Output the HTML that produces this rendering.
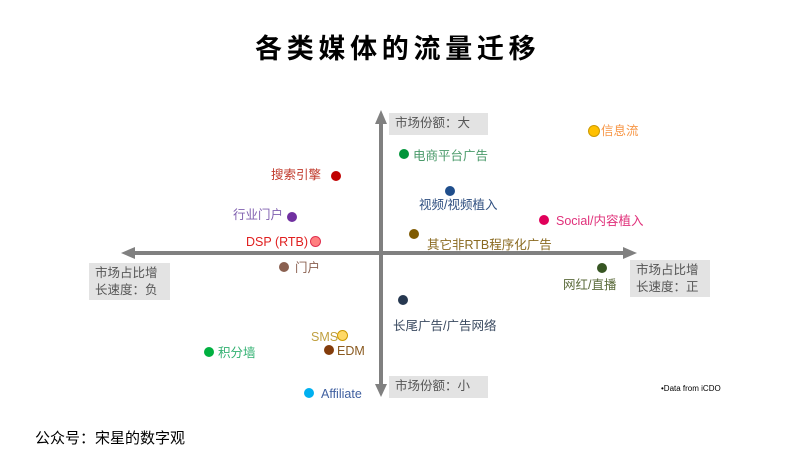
<!DOCTYPE html>
<html><head><meta charset="utf-8"><style>
body{margin:0;width:800px;height:450px;background:#fff;position:relative;overflow:hidden;font-family:"Liberation Sans","Noto Sans CJK SC",sans-serif;}
.a{position:absolute;white-space:nowrap;font-size:12.5px;line-height:14px;}
.d{position:absolute;width:10px;height:10px;border-radius:50%;}
.box{position:absolute;background:#e3e3e3;color:#555;font-size:12.5px;line-height:17px;padding:2px 6px;box-sizing:border-box;}
</style></head><body>
<div class="a" style="left:255px;top:33px;font-size:27px;line-height:32px;font-weight:bold;letter-spacing:4.7px;color:#000">各类媒体的流量迁移</div>
<svg width="800" height="450" style="position:absolute;left:0;top:0">
<line x1="381" y1="122" x2="381" y2="386" stroke="#808080" stroke-width="4"/>
<polygon points="381,110 375,124 387,124" fill="#808080"/>
<polygon points="381,397 375,384 387,384" fill="#808080"/>
<line x1="133" y1="253" x2="625" y2="253" stroke="#808080" stroke-width="4"/>
<polygon points="121,253 135,247 135,259" fill="#808080"/>
<polygon points="637,253 623,247 623,259" fill="#808080"/>
</svg>
<div class="box" style="left:389px;top:113px;width:99px;height:22px;">市场份额：大</div>
<div class="box" style="left:389px;top:376px;width:99px;height:22px;">市场份额：小</div>
<div class="box" style="left:89px;top:263px;width:81px;height:37px;">市场占比增<br>长速度：负</div>
<div class="box" style="left:630px;top:260px;width:80px;height:37px;">市场占比增<br>长速度：正</div>

<div class="d" style="left:588px;top:125px;background:#ffc000;border:1px solid #c90"></div><div class="a" style="left:601px;top:124px;color:#f79646">信息流</div>
<div class="d" style="left:399px;top:149px;background:#00953a"></div><div class="a" style="left:413px;top:149px;color:#4a9a6a">电商平台广告</div>
<div class="d" style="left:331px;top:171px;background:#c00000"></div><div class="a" style="left:271px;top:168px;color:#c0392b">搜索引擎</div>
<div class="d" style="left:445px;top:186px;background:#1f4e8c"></div><div class="a" style="left:419px;top:198px;color:#2f4f80">视频/视频植入</div>
<div class="d" style="left:287px;top:212px;background:#7030a0"></div><div class="a" style="left:233px;top:208px;color:#8060b0">行业门户</div>
<div class="d" style="left:539px;top:215px;background:#e0005a"></div><div class="a" style="left:556px;top:214px;color:#e0307a">Social/内容植入</div>
<div class="d" style="left:409px;top:229px;background:#7f5a00"></div><div class="a" style="left:427px;top:238px;color:#8a6a20">其它非RTB程序化广告</div>
<div class="d" style="left:310px;top:236px;background:#ff8080;border:1px solid #e03050;width:9px;height:9px"></div><div class="a" style="left:246px;top:235px;color:#e02020">DSP (RTB)</div>
<div class="d" style="left:279px;top:262px;background:#8a6050"></div><div class="a" style="left:295px;top:261px;color:#8a6050">门户</div>
<div class="d" style="left:597px;top:263px;background:#375623"></div><div class="a" style="left:563px;top:278px;color:#5a6a3a">网红/直播</div>
<div class="d" style="left:398px;top:295px;background:#263850"></div><div class="a" style="left:393px;top:319px;color:#3a4a60">长尾广告/广告网络</div>
<div class="d" style="left:337px;top:330px;background:#ffd966;border:1px solid #c90;width:9px;height:9px"></div><div class="a" style="left:311px;top:330px;color:#c0a040">SMS</div>
<div class="d" style="left:324px;top:345px;background:#833c0b"></div><div class="a" style="left:337px;top:344px;color:#8a5a20">EDM</div>
<div class="d" style="left:204px;top:347px;background:#00b040"></div><div class="a" style="left:218px;top:346px;color:#30b070">积分墙</div>
<div class="d" style="left:304px;top:388px;background:#00b0f0"></div><div class="a" style="left:321px;top:387px;color:#4060a0">Affiliate</div>
<div class="a" style="left:661px;top:382px;font-size:8px;color:#000">•Data from iCDO</div>
<div class="a" style="left:35px;top:430px;font-size:15px;line-height:17px;color:#000">公众号：宋星的数字观</div>
</body></html>
